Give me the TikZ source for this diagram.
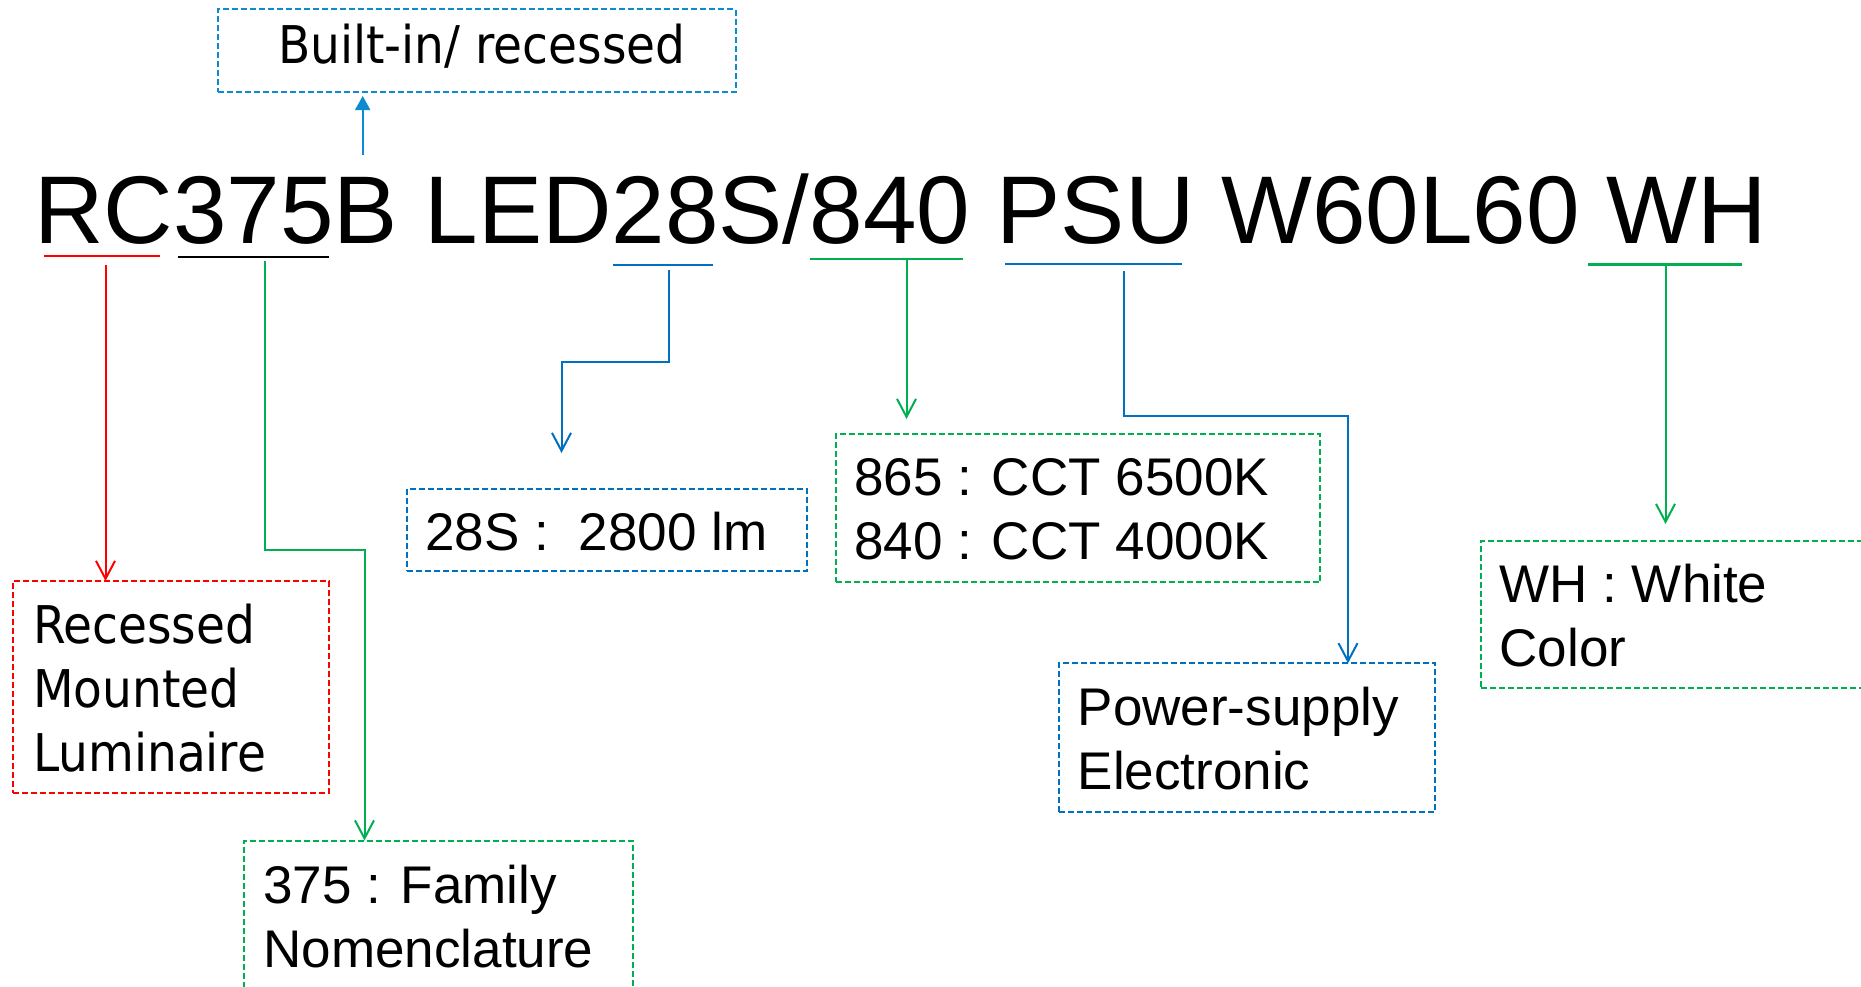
\documentclass[tikz,border=0pt]{standalone}
\usepackage{fontspec}
\setmainfont{Liberation Sans}
\newfontfamily\tahoma[FakeStretch=0.905]{DejaVu Sans}
\usetikzlibrary{arrows.meta}
\definecolor{cred}{HTML}{FF0000}
\definecolor{cgreen}{HTML}{00B050}
\definecolor{cblue}{HTML}{0070C0}
\definecolor{ctop}{HTML}{0C8BD0}
\begin{document}
\begin{tikzpicture}[x=0.5pt,y=-0.5pt,
  box/.style={draw=#1, dash pattern=on 3pt off 1.5pt, line width=1pt, inner sep=0pt, outer sep=0pt, anchor=north west},
  conn/.style={draw=#1, line width=1pt, -{Straight Barb[length=9pt,width=9.5pt]}},
  uline/.style={draw=#1, line width=1.3pt},
  lbl/.style={anchor=base west, inner sep=0pt, outer sep=0pt, font=\fontsize{26.5}{32}\selectfont},
  tlbl/.style={anchor=base west, inner sep=0pt, outer sep=0pt, font=\tahoma\fontsize{26}{32}\selectfont}]
\useasboundingbox (0,0) rectangle (1861,986);
\clip (0,0) rectangle (1861,986);

% main code line
\node[anchor=base west, inner sep=0pt, font=\fontsize{48.1}{58}\selectfont] (code) at (34,243) {RC375B LED28S/840 PSU W60L60 WH};

% boxes
\node[box=ctop, minimum width=258.9pt, minimum height=41.2pt] (tbox) at (218.3,9.3) {};
\node[box=cred, minimum width=158pt, minimum height=106pt] (rbox) at (13,581) {};
\node[box=cgreen, minimum width=194.5pt, minimum height=85pt] (fbox) at (244,840.5) {};
\node[box=cblue, minimum width=200pt, minimum height=41pt] (lbox) at (407.3,489.3) {};
\node[box=cgreen, minimum width=242.2pt, minimum height=74.2pt] (cbox) at (835.7,434) {};
\node[box=cblue, minimum width=188pt, minimum height=74.5pt] (pbox) at (1059,663.3) {};
\node[box=cgreen, minimum width=209.5pt, minimum height=73.5pt] (wbox) at (1481,541) {};

% texts
\node[tlbl] (ttxt) at (278,63.3) {Built-in/ recessed};
\node[tlbl] (rtxt) at (33,643.5) {\begin{tabular}[t]{@{}l@{}}Recessed\\Mounted\\Luminaire\end{tabular}};
\node[lbl] (ftxt) at (263.5,903) {\begin{tabular}[t]{@{}l@{}}375 : Family\\Nomenclature\end{tabular}};
\node[lbl] (ltxt) at (425.5,550) {28S :\ \ 2800 lm};
\node[lbl] (ctxt) at (854.5,495) {\begin{tabular}[t]{@{}l@{}}865 : CCT 6500K\\840 : CCT 4000K\end{tabular}};
\node[lbl] (ptxt) at (1077.7,725) {\begin{tabular}[t]{@{}l@{}}Power-supply\\Electronic\end{tabular}};
\node[lbl] (wtxt) at (1499.5,602) {\begin{tabular}[t]{@{}l@{}}WH : White\\Color\end{tabular}};

% underlines
\coordinate (rA) at (44,256);   \coordinate (rB) at (160,256);
\coordinate (kA) at (178,257);  \coordinate (kB) at (329,257);
\coordinate (bA) at (613,265);  \coordinate (bB) at (713,265);
\coordinate (cA) at (810,259);  \coordinate (cB) at (963,259);
\coordinate (pA) at (1005,264); \coordinate (pB) at (1182,264);
\coordinate (wA) at (1588,264.7); \coordinate (wB) at (1742,264.7);
\draw[uline=cred] (rA) -- (rB);
\draw[uline=black] (kA) -- (kB);
\draw[uline=cblue] (bA) -- (bB);
\draw[uline=cgreen] (cA) -- (cB);
\draw[uline=cblue] (pA) -- (pB);
\draw[uline=cgreen] (wA) -- (wB);

% connector points
\coordinate (t0) at (362.7,155); \coordinate (t1) at (362.7,96);
\coordinate (r0) at (105.5,265);
\coordinate (g0) at (264.5,261); \coordinate (g2) at (364.5,550);
\coordinate (b0) at (669,270);   \coordinate (b1) at (561.5,362); \coordinate (b2) at (561.5,453);
\coordinate (c0) at (906.5,260); \coordinate (c1) at (906.5,419);
\coordinate (p0) at (1123.5,271); \coordinate (p1) at (1348,415.7);
\coordinate (w0) at (1665.5,265); \coordinate (w1) at (1665.5,524);

% connectors
\draw[ctop, line width=1pt, -{Triangle[length=7pt,width=7.5pt]}] (t0) -- (t1);
\draw[conn=cred] (r0) -- (r0 |- rbox.north);
\draw[conn=cgreen] (g0) |- (g2) -- (g2 |- fbox.north);
\draw[conn=cblue] (b0) |- (b1) -- (b2);
\draw[conn=cgreen] (c0) -- (c1);
\draw[conn=cblue] (p0) |- (p1) -- (p1 |- pbox.north);
\draw[conn=cgreen] (w0) -- (w1);
\end{tikzpicture}
\end{document}
